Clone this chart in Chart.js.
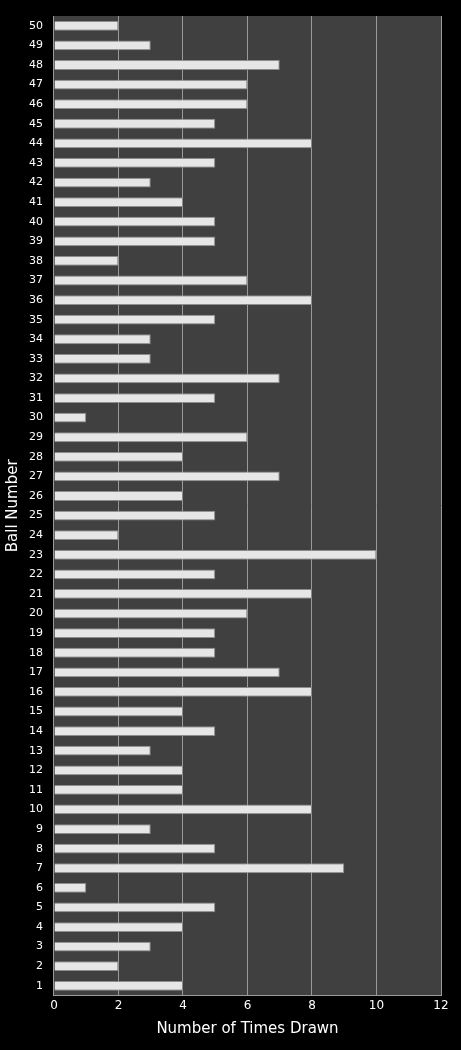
<!DOCTYPE html>
<html>
<head>
<meta charset="utf-8">
<script src="https://cdn.jsdelivr.net/npm/chart.js@4"></script>
<style>
  html, body { margin: 0; padding: 0; background: #000; }
  #wrap { width: 461px; height: 1050px; }
</style>
</head>
<body>
<div id="wrap"><canvas id="ballChart"></canvas></div>
<script>
const BALLS = [];
for (let i = 1; i <= 50; i++) BALLS.push(String(i));
// times drawn, ball 1 .. 50
const TIMES_DRAWN = [
  4, 2, 3, 4, 5, 1, 9, 5, 3, 8,
  4, 4, 3, 5, 4, 8, 7, 5, 5, 6,
  8, 5, 10, 2, 5, 4, 7, 4, 6, 1,
  5, 7, 3, 3, 5, 8, 6, 2, 5, 5,
  4, 3, 5, 8, 5, 6, 6, 7, 3, 2
];

const plotBg = {
  id: "plotBg",
  beforeDraw(chart) {
    const { ctx, chartArea: a } = chart;
    ctx.save();
    ctx.fillStyle = "#404040";
    ctx.fillRect(a.left, a.top, a.right - a.left, a.bottom - a.top);
    ctx.restore();
  }
};

(function() {
  const ctx = document.getElementById("ballChart").getContext("2d");
  new Chart(ctx, {
    type: "bar",
    data: {
      labels: BALLS,
      datasets: [{
        data: TIMES_DRAWN,
        backgroundColor: "#e6e6e6",
        borderColor: "#8c8c8c",
        borderWidth: 1,
        barPercentage: 0.5,
        categoryPercentage: 1
      }]
    },
    plugins: [plotBg],
    options: {
      indexAxis: "y",
      responsive: true,
      maintainAspectRatio: false,
      animation: false,
      layout: { padding: { top: 16, right: 20, bottom: 8, left: 0 } },
      plugins: { legend: { display: false }, tooltip: { enabled: false } },
      scales: {
        x: {
          min: 0,
          max: 12,
          ticks: { stepSize: 2, color: "#fff", font: { family: "DejaVu Sans", size: 12 } },
          grid: { color: "#9a9a9a", drawTicks: false },
          border: { color: "#9a9a9a" },
          title: { display: true, text: "Number of Times Drawn", color: "#fff", font: { family: "DejaVu Sans", size: 15 } }
        },
        y: {
          reverse: true,
          ticks: { autoSkip: false, color: "#fff", font: { family: "DejaVu Sans", size: 11 } },
          grid: { display: false },
          border: { color: "#9a9a9a" },
          title: { display: true, text: "Ball Number", color: "#fff", font: { family: "DejaVu Sans", size: 15 } }
        }
      }
    }
  });
})();
</script>
</body>
</html>
